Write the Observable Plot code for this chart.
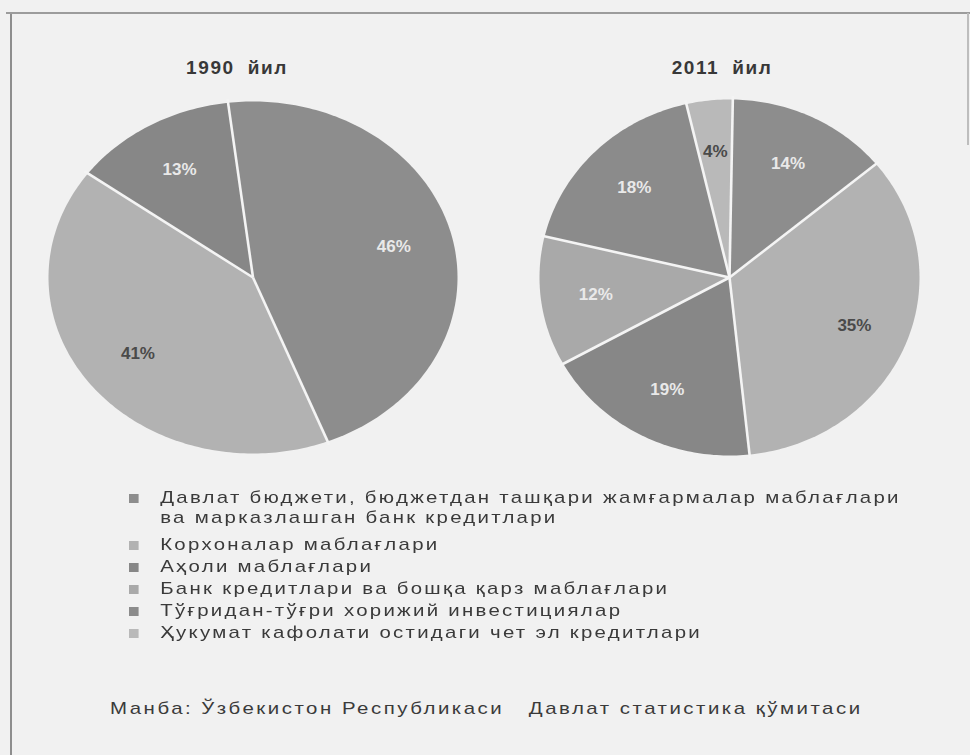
<!DOCTYPE html>
<html>
<head>
<meta charset="utf-8">
<script src="https://cdn.jsdelivr.net/npm/d3@7"></script>
<script src="https://cdn.jsdelivr.net/npm/@observablehq/plot@0.6"></script>
<style>
  html, body { margin: 0; padding: 0; background: #f1f1f1; }
  #page { position: relative; width: 970px; height: 755px; background: #f1f1f1; overflow: hidden;
          font-family: "Liberation Sans", Arial, sans-serif; color: #333; }
  .pie { position: absolute; top: 0; }
  .title { position: absolute; top: 57px; font-weight: bold; font-size: 19px; letter-spacing: 1.6px; word-spacing: 6px;
           transform: translateX(-50%); white-space: nowrap; color: #383838; }
  .leg { position: absolute; left: 129px; font-size: 17px; letter-spacing: 1.9px; line-height: 20px; color: #3a3a3a;
         transform: scaleX(1.2); transform-origin: 0 0; }
  .leg .row { position: relative; padding-left: 26px; white-space: nowrap; }
  .leg .sw { position: absolute; left: 0; top: 6px; width: 8px; height: 9px; }
  .src { position: absolute; left: 110px; top: 699px; font-size: 17px; letter-spacing: 2.1px; white-space: pre; color: #3a3a3a;
         transform: scaleX(1.2); transform-origin: 0 0; }
  .bline { position: absolute; }
</style>
</head>
<body>
<div id="page"></div>
<script>
// ---- data ----
const categories = [
  "Давлат бюджети, бюджетдан ташқари жамғармалар маблағлари|ва марказлашган банк кредитлари",
  "Корхоналар маблағлари",
  "Аҳоли маблағлари",
  "Банк кредитлари ва бошқа қарз маблағлари",
  "Тўғридан-тўғри хорижий инвестициялар",
  "Ҳукумат кафолати остидаги чет эл кредитлари"
];
const pieTitles = ["1990 йил", "2011 йил"];
const values1990 = [46, 41, 13];
const values2011 = [14, 35, 19, 12, 18, 4];
const sourceText = "Манба: Ўзбекистон Республикаси   Давлат статистика қўмитаси";

// ---- style ----
const sliceColors = ["#8d8d8d", "#b2b2b2", "#878787", "#a9a9a9", "#8b8b8b", "#b9b9b9"];
const darkLabelIdx = new Set([1, 5]);

const page = document.getElementById("page");

function makeSlices(values, startDeg) {
  const total = d3.sum(values);
  let a = startDeg;
  return values.map((v, i) => {
    const a0 = a;
    a += v / total * 360;
    return {i, cat: categories[i], v, a0, a1: a, mid: (a0 + a) / 2};
  });
}
const rad = (deg) => deg * Math.PI / 180;

function polygons(slices) {
  const pts = [];
  for (const s of slices) {
    pts.push({cat: s.cat, x: 0, y: 0});
    const n = Math.max(2, Math.ceil(s.a1 - s.a0));
    for (let k = 0; k <= n; k++) {
      const t = rad(s.a0 + (s.a1 - s.a0) * k / n);
      pts.push({cat: s.cat, x: Math.sin(t), y: Math.cos(t)});
    }
  }
  return pts;
}

function pie(values, startDeg, m) {
  const slices = makeSlices(values, startDeg);
  const r = 0.71;
  return Plot.plot({
    width: 485, height: 480,
    marginLeft: m[0], marginRight: m[1], marginTop: m[2], marginBottom: m[3],
    x: {domain: [-1, 1], axis: null},
    y: {domain: [-1, 1], axis: null},
    color: {domain: categories, range: sliceColors},
    style: {background: "transparent", overflow: "visible"},
    marks: [
      Plot.line(polygons(slices), {x: "x", y: "y", z: "cat", fill: "cat", stroke: "none", curve: "linear-closed"}),
      Plot.link(slices, {x1: () => 0, y1: () => 0,
        x2: d => 1.02 * Math.sin(rad(d.a0)), y2: d => 1.02 * Math.cos(rad(d.a0)),
        stroke: "#f4f4f4", strokeWidth: 2.6}),
      Plot.text(slices.filter(d => !darkLabelIdx.has(d.i)), {
        x: d => r * Math.sin(rad(d.mid)), y: d => r * Math.cos(rad(d.mid)),
        text: d => d.v + "%", fill: "#e9e9e9", fontSize: 17, fontWeight: "bold",
        fontFamily: "Liberation Sans, Arial, sans-serif"}),
      Plot.text(slices.filter(d => darkLabelIdx.has(d.i)), {
        x: d => r * Math.sin(rad(d.mid)), y: d => r * Math.cos(rad(d.mid)),
        text: d => d.v + "%", fill: "#4a4a4a", fontSize: 17, fontWeight: "bold",
        fontFamily: "Liberation Sans, Arial, sans-serif"})
    ]
  });
}

// frame lines
function bline(l, t, w, h, c) {
  const d = document.createElement("div");
  d.className = "bline";
  Object.assign(d.style, {left: l + "px", top: t + "px", width: w + "px", height: h + "px", background: c});
  page.appendChild(d);
}
bline(6, 12, 964, 2, "#9c9c9c");
bline(10, 14, 2, 741, "#8e8e8e");
bline(967, 13, 2, 132, "#bdbdbd");

// pies
const p1 = pie(values1990, -7, [48, 28, 101, 27]);
p1.classList.add("pie"); p1.style.left = "0px";
page.appendChild(p1);
const p2 = pie(values2011, 1, [54, 51, 99, 25]);
p2.classList.add("pie"); p2.style.left = "485px";
page.appendChild(p2);

// titles
[[pieTitles[0], 237], [pieTitles[1], 722]].forEach(([t, x]) => {
  const d = document.createElement("div");
  d.className = "title"; d.textContent = t; d.style.left = x + "px";
  page.appendChild(d);
});

// legend
const leg = document.createElement("div");
leg.className = "leg";
leg.style.top = "488px";
const rowTops = [0, 47, 69, 91, 113, 135];
categories.forEach((c, i) => {
  const row = document.createElement("div");
  row.className = "row";
  row.style.position = "absolute";
  row.style.top = rowTops[i] + "px";
  const sw = document.createElement("div");
  sw.className = "sw"; sw.style.background = sliceColors[i];
  row.appendChild(sw);
  c.split("|").forEach((line) => {
    const l = document.createElement("div");
    l.textContent = line;
    row.appendChild(l);
  });
  leg.appendChild(row);
});
page.appendChild(leg);

// source
const src = document.createElement("div");
src.className = "src"; src.textContent = sourceText;
page.appendChild(src);
</script>
</body>
</html>
